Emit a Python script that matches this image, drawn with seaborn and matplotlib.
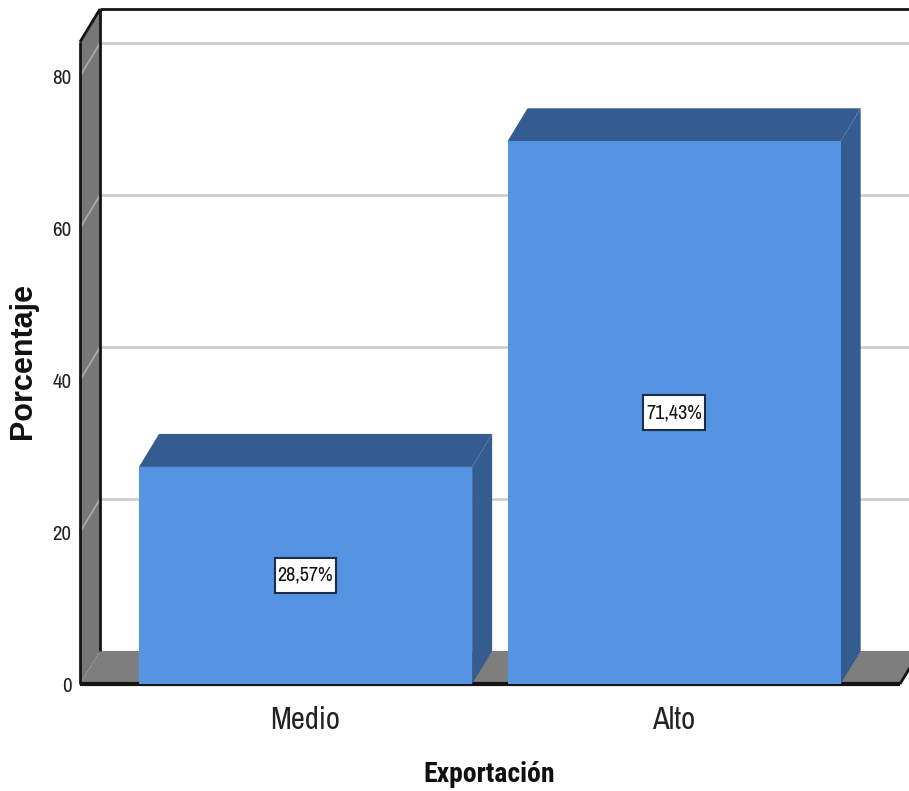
import matplotlib
matplotlib.use("Agg")
import matplotlib.pyplot as plt
from matplotlib.patches import Polygon, Rectangle
import seaborn as sns
import pandas as pd

# Data
categories = ["Medio", "Alto"]
percentages = [28.57, 71.43]
value_labels = ["28,57%", "71,43%"]
y_ticks = [0, 20, 40, 60, 80]

# Colours
FRONT = "#5594e2"
SHADE = "#345c90"
WALL = "#777777"
FLOOR = "#7e7e7e"
GRID = "#cdcdcd"
SIDE_GRID = "#a8a8a8"
EDGE = "#151515"

sns.set_theme(style="white")
plt.rcParams["font.family"] = ["Liberation Sans", "DejaVu Sans"]
NARROW = ["Archivo Narrow", "DejaVu Sans"]
NARROW_BOLD = ["Roboto Condensed", "Asap Condensed", "DejaVu Sans"]

fig = plt.figure(figsize=(9.09, 7.91), dpi=100)
fig.patch.set_facecolor("white")
ax = fig.add_axes([80 / 909, 1 - 684 / 791, 820 / 909, 642 / 791])

df = pd.DataFrame({"Exportación": categories, "Porcentaje": percentages})
sns.barplot(data=df, x="Exportación", y="Porcentaje", color=FRONT,
            saturation=1, width=0.904, linewidth=0, zorder=3, ax=ax)

x0, x1 = -0.612, 1.613
ytop = 84.5
ax.set_xlim(x0, x1)
ax.set_ylim(0, ytop)
ax.set_facecolor("none")
for s in ax.spines.values():
    s.set_visible(False)

# depth of the 3D box, expressed in data units (20 px right, 33 px up)
dx = 20 * (x1 - x0) / ax.bbox.width
dy = 33 * ytop / ax.bbox.height

# back wall
ax.add_patch(Rectangle((x0 + dx, dy), (x1 - x0) + 0.2, ytop, fc="white",
                       ec="none", zorder=0.5, clip_on=False))
for v in y_ticks[1:]:
    ax.plot([x0 + dx, x1 + dx + 0.2], [v + dy, v + dy], color=GRID, lw=2,
            zorder=0.6, clip_on=False, solid_capstyle="butt")

# left wall and floor
ax.add_patch(Polygon([(x0, 0), (x0 + dx, dy), (x0 + dx, ytop + dy), (x0, ytop)],
                     closed=True, fc=WALL, ec="none", zorder=0.7, clip_on=False))
ax.add_patch(Polygon([(x0, 0), (x1, 0), (x1 + dx, dy), (x0 + dx, dy)],
                     closed=True, fc=FLOOR, ec="none", zorder=0.7, clip_on=False))
for v in y_ticks[1:]:
    ax.plot([x0, x0 + dx], [v, v + dy], color=SIDE_GRID, lw=1.3,
            zorder=0.8, clip_on=False)

# box outlines
outline = dict(color=EDGE, lw=2, zorder=0.9, clip_on=False, solid_capstyle="butt")
ax.plot([x0, x0], [0, ytop], **outline)
ax.plot([x0, x0 + dx], [ytop, ytop + dy], **outline)
ax.plot([x0 + dx, x1 + dx + 0.2], [ytop + dy, ytop + dy], **outline)
ax.plot([x0 + dx, x0 + dx], [dy, ytop + dy], **outline)
ax.plot([x1, x1 + dx], [0, dy], **outline)
ax.plot([x0, x1], [0, 0], color=EDGE, lw=3, zorder=2, clip_on=False,
        solid_capstyle="butt")

# 3D faces of bars and value labels
label_texts = []
for patch, lab in zip(ax.patches[:len(categories)], value_labels):
    bx, w, h = patch.get_x(), patch.get_width(), patch.get_height()
    ax.add_patch(Polygon([(bx, h), (bx + w, h), (bx + w + dx, h + dy), (bx + dx, h + dy)],
                         closed=True, fc=SHADE, ec="none", zorder=2.5))
    ax.add_patch(Polygon([(bx + w, 0), (bx + w + dx, dy), (bx + w + dx, h + dy), (bx + w, h)],
                         closed=True, fc=SHADE, ec="none", zorder=2.5))
    label_texts.append(ax.text(bx + w / 2, h / 2, lab, ha="center", va="center",
                               fontsize=14.5, family=NARROW, color="#111111", zorder=5))

ax.set_yticks(y_ticks)
ax.set_yticklabels([str(t) for t in y_ticks], family=NARROW, fontsize=15, color="#222222")
ax.set_xticks(range(len(categories)))
ax.set_xticklabels(categories, family=NARROW, fontsize=22, color="#222222")
ax.tick_params(axis="y", length=0, pad=6)
ax.tick_params(axis="x", length=0, pad=16)

ax.set_xlabel("Exportación", family=NARROW_BOLD, fontsize=20, fontweight="bold", color="#111111")
ax.xaxis.label.set_va("center")
ax.xaxis.set_label_coords((489 - 80) / 820, (684 - 774) / 642)
ax.set_ylabel("Porcentaje", fontsize=22, fontweight="bold", color="#111111")
ax.yaxis.label.set_va("center")
ax.yaxis.set_label_coords((23 - 80) / 820, (684 - 361) / 642)

# white label boxes: tight at the sides, taller above and below the text
fig.canvas.draw()
inv = ax.transData.inverted()
for t in label_texts:
    bb = t.get_window_extent()
    (ax0, ay0), (ax1, ay1) = inv.transform([(bb.x0 - 3, bb.y0 - 8), (bb.x1 + 3, bb.y1 + 8)])
    ax.add_patch(Rectangle((ax0, ay0), ax1 - ax0, ay1 - ay0, fc="white",
                           ec="#1c2d4a", lw=1.5, zorder=4.9))

fig.savefig("out.png", dpi=100, facecolor="white")
